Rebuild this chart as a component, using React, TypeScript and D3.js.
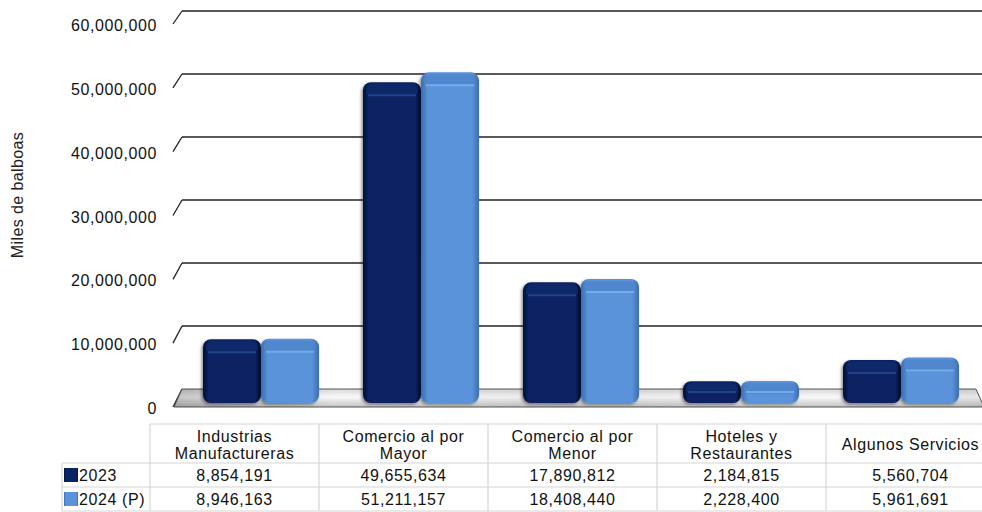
import * as d3 from "d3";

const categories = [
  "Industrias Manufactureras",
  "Comercio al por Mayor",
  "Comercio al por Menor",
  "Hoteles y Restaurantes",
  "Algunos Servicios",
];
const categoryLines = [
  ["Industrias", "Manufactureras"],
  ["Comercio al por", "Mayor"],
  ["Comercio al por", "Menor"],
  ["Hoteles y", "Restaurantes"],
  ["Algunos Servicios"],
];
const seriesNames = ["2023", "2024 (P)"];
const values2023 = [8854191, 49655634, 17890812, 2184815, 5560704];
const values2024 = [8946163, 51211157, 18408440, 2228400, 5961691];
const yTicks = [0, 10000000, 20000000, 30000000, 40000000, 50000000, 60000000];
const yTitle = "Miles de balboas";

const series = [values2023, values2024];
const fmt = d3.format(",");
const font = "'Liberation Sans', Arial, sans-serif";

export default function App() {
  const width = 982,
    height = 512;

  // back wall, front plane, and bar scale (bars sit between the two)
  const yBack = d3.scaleLinear().domain([0, 60000000]).range([389, 11]);
  const yFront = d3.scaleLinear().domain([0, 60000000]).range([408, 25]);
  const yBar = d3.scaleLinear().domain([0, 60000000]).range([395, 17]);
  const barBottom = 403;

  const x = d3
    .scaleBand<string>()
    .domain(categories)
    .range([181, 981])
    .paddingInner(0.275)
    .paddingOuter(0.1375);
  const xSub = d3.scaleBand<string>().domain(seriesNames).range([0, x.bandwidth()]);

  // table columns
  const xCol = d3.scaleBand<string>().domain(categories).range([150, 995]);
  const rowTop = 424,
    rowHead = 463,
    row1 = 487,
    row2 = 511;

  const grads = [
    { id: "g0", edge: "#03133d", mid: "#0a2463", cap: "#0f2c6c", hi: "#25488c" },
    { id: "g1", edge: "#3a6db2", mid: "#5a93da", cap: "#4d84ca", hi: "#7db5f0" },
  ];

  return (
    <svg
      width={width}
      height={height}
      style={{ position: "absolute", left: 0, top: 0, background: "#fff" }}
      fontFamily={font}
    >
      <defs>
        {grads.map((g) => (
          <linearGradient key={g.id} id={g.id} x1="0" x2="1" y1="0" y2="0">
            <stop offset="0" stopColor={g.edge} />
            <stop offset="0.12" stopColor={g.mid} />
            <stop offset="0.88" stopColor={g.mid} />
            <stop offset="1" stopColor={g.edge} />
          </linearGradient>
        ))}
        <linearGradient id="floor" x1="0" x2="0" y1="0" y2="1">
          <stop offset="0" stopColor="#d8d8d8" />
          <stop offset="0.45" stopColor="#fafafa" />
          <stop offset="1" stopColor="#c4c4c4" />
        </linearGradient>
        <linearGradient id="floorH" x1="0" x2="1" y1="0" y2="0">
          <stop offset="0" stopColor="#000" stopOpacity="0.2" />
          <stop offset="0.2" stopColor="#000" stopOpacity="0" />
          <stop offset="0.5" stopColor="#000" stopOpacity="0.06" />
          <stop offset="0.8" stopColor="#000" stopOpacity="0" />
          <stop offset="1" stopColor="#000" stopOpacity="0.08" />
        </linearGradient>
        <filter id="shadow" x="-20%" y="-20%" width="140%" height="140%">
          <feDropShadow dx="-1.5" dy="1.5" stdDeviation="1.8" floodColor="#000" floodOpacity="0.45" />
        </filter>
      </defs>

      {/* y axis title */}
      <text
        transform={`translate(23, 195) rotate(-90)`}
        textAnchor="middle"
        fontSize={16}
        letterSpacing={0.4}
        fill="#222"
      >
        {yTitle}
      </text>

      {/* grid lines: back wall + front slash */}
      {yTicks.map((t) => (
        <g key={t}>
          {t > 0 && (
            <line x1={182} x2={982} y1={yBack(t)} y2={yBack(t)} stroke="#222" strokeWidth={1.3} />
          )}
          <line x1={173} x2={182} y1={yFront(t) - 1} y2={yBack(t)} stroke="#222" strokeWidth={1.3} />
          <text
            x={157}
            y={yFront(t) + 6}
            textAnchor="end"
            fontSize={16}
            letterSpacing={0.6}
            fill="#111"
          >
            {fmt(t)}
          </text>
        </g>
      ))}

      {/* floor */}
      <polygon
        points={`182,${yBack(0)} 976,${yBack(0)} 984,${yFront(0) - 1} 174,${yFront(0) - 1}`}
        fill="url(#floor)"
        stroke="#555"
        strokeWidth={1}
      />
      <polygon
        points={`182,${yBack(0)} 976,${yBack(0)} 984,${yFront(0) - 1} 174,${yFront(0) - 1}`}
        fill="url(#floorH)"
      />

      {/* bars */}
      {categories.map((c, i) => (
        <g key={c} transform={`translate(${x(c)},0)`}>
          {seriesNames.map((s, j) => {
            const v = series[j][i];
            const bx = xSub(s)!;
            const bw = xSub.bandwidth();
            const top = yBar(v);
            const h = barBottom - top;
            const g = grads[j];
            return (
              <g key={s}>
                <rect
                  x={bx}
                  y={top}
                  width={bw}
                  height={h}
                  rx={8}
                  fill={`url(#${g.id})`}
                  filter="url(#shadow)"
                />
                <rect
                  x={bx + 3}
                  y={top + 2}
                  width={bw - 6}
                  height={Math.min(12, h / 2)}
                  rx={6}
                  fill={g.cap}
                  opacity={0.8}
                />
                <line
                  x1={bx + 5}
                  x2={bx + bw - 5}
                  y1={top + Math.min(13, h / 2)}
                  y2={top + Math.min(13, h / 2)}
                  stroke={g.hi}
                  strokeWidth={2}
                  opacity={0.8}
                />
              </g>
            );
          })}
        </g>
      ))}

      {/* data table */}
      <g stroke="#d6d6d6" strokeWidth={1.2}>
        <line x1={150} x2={982} y1={rowTop} y2={rowTop} />
        <line x1={62} x2={982} y1={rowHead} y2={rowHead} />
        <line x1={62} x2={982} y1={row1} y2={row1} />
        <line x1={62} x2={982} y1={row2} y2={row2} />
        <line x1={62} x2={62} y1={rowHead} y2={row2} />
        {categories.map((c) => (
          <line key={c} x1={xCol(c)} x2={xCol(c)} y1={rowTop} y2={row2} />
        ))}
      </g>

      {categories.map((c, i) => {
        const cx = xCol(c)! + xCol.bandwidth() / 2;
        const lines = categoryLines[i];
        const y0 = lines.length === 1 ? 450 : 442;
        return (
          <g key={c} fontSize={16} letterSpacing={0.6} fill="#111" textAnchor="middle">
            {lines.map((l, k) => (
              <text key={k} x={cx} y={y0 + k * 17}>
                {l}
              </text>
            ))}
            <text x={cx} y={481}>
              {fmt(values2023[i])}
            </text>
            <text x={cx} y={505}>
              {fmt(values2024[i])}
            </text>
          </g>
        );
      })}

      {/* legend keys */}
      {seriesNames.map((s, j) => {
        const y = j === 0 ? rowHead : row1;
        return (
          <g key={s}>
            <rect x={64} y={y + 5} width={14} height={14} fill={`url(#${grads[j].id})`} />
            <text x={79} y={y + 18} fontSize={16} letterSpacing={0.6} fill="#111">
              {s}
            </text>
          </g>
        );
      })}
    </svg>
  );
}
